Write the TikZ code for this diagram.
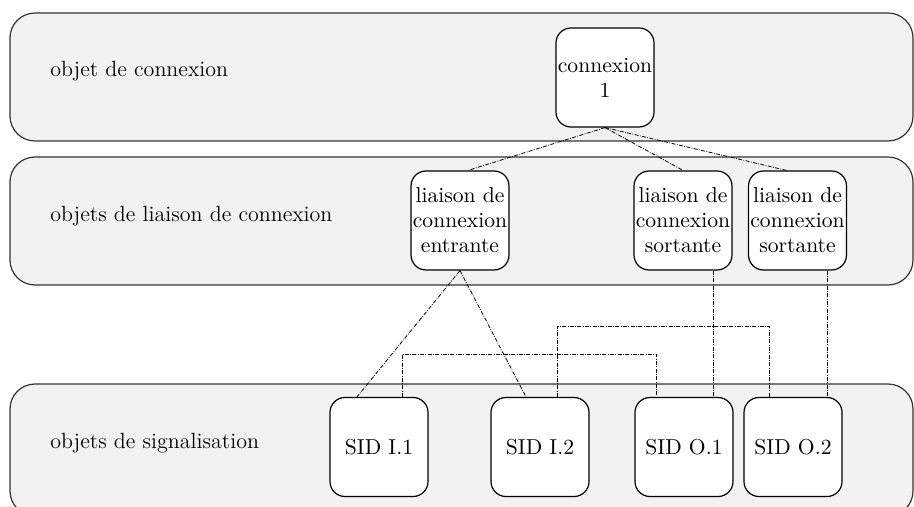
\documentclass[tikz,border=0pt]{standalone}
\definecolor{bandgray}{HTML}{F2F2F2}
\tikzset{
  band/.style={draw=black!80,line width=0.6pt,fill=bandgray,rounded corners=12.5pt},
  obj/.style={draw=black,line width=0.6pt,fill=white,rounded corners=7.5pt,
    minimum width=49pt,minimum height=49.5pt,inner sep=0pt,align=center,
    font=\fontsize{10.8}{12.5}\selectfont},
  bandlbl/.style={anchor=base west,inner sep=0pt,font=\fontsize{11}{14}\selectfont},
  link/.style={line width=0.4pt,dash pattern=on 2pt off 0.7pt on 0.4pt off 0.7pt}
}
\begin{document}
\begin{tikzpicture}[x=0.5pt,y=-0.5pt]
 \clip (0,0) rectangle (914,507);
 % bands
 \draw[band] (10,13) rectangle (913,141);
 \draw[band] (10,157) rectangle (913,285);
 \draw[band] (10,384) rectangle (913,516);
 \node[bandlbl] (lblcx) at (50,77) {objet de connexion};
 \node[bandlbl] (lblli) at (50,222) {objets de liaison de connexion};
 \node[bandlbl] (lblsig) at (50,448) {objets de signalisation};
 % objects
 \node[obj] (cx) at (605,77.5) {connexion\\1};
 \node[obj] (le) at (460,220.5) {liaison de\\connexion\\entrante};
 \node[obj] (ls1) at (683,220.5) {liaison de\\connexion\\sortante};
 \node[obj] (ls2) at (797.5,220.5) {liaison de\\connexion\\sortante};
 \node[obj] (si1) at (379,447) {SID I.1};
 \node[obj] (si2) at (540,447) {SID I.2};
 \node[obj] (so1) at (684,447) {SID O.1};
 \node[obj] (so2) at (793,447) {SID O.2};
 % links
 \draw[link] (cx.south) -- ([xshift=4pt]le.north);
 \draw[link] (cx.south) -- (ls1.north);
 \draw[link] (cx.south) -- ([xshift=-5.5pt]ls2.north);
 \draw[link] (le.south) -- ([xshift=-11pt]si1.north);
 \draw[link] (le.south) -- ([xshift=-7pt]si2.north);
 \draw[link] ([xshift=15pt]ls1.south) -- ([xshift=15pt]ls1.south |- so1.north);
 \draw[link] ([xshift=15pt]ls2.south) -- ([xshift=15pt]ls2.south |- so2.north);
 \draw[link] ([xshift=11.5pt]si1.north) |- (656,354) -- ([xshift=-14pt]so1.north);
 \draw[link] ([xshift=8.5pt]si2.north) |- (769,326) -- ([xshift=-12pt]so2.north);
\end{tikzpicture}
\end{document}
